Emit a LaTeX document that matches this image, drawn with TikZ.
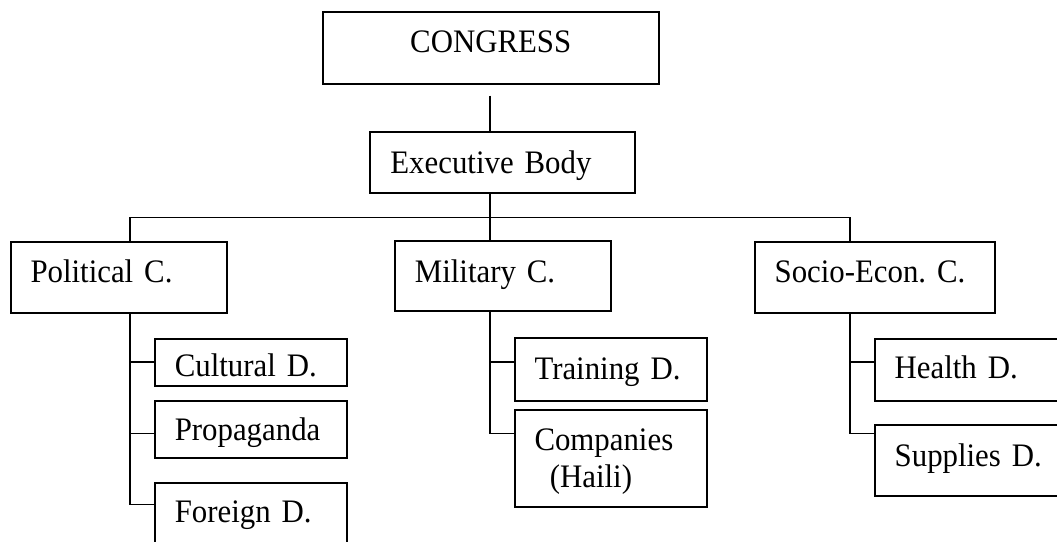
\documentclass[tikz,border=0pt]{standalone}
\usepackage{fontspec}
\setmainfont{Liberation Serif}[FakeStretch=0.94]
\frenchspacing
\begin{document}
\begin{tikzpicture}[x=0.75pt,y=-0.75pt,
    font=\fontsize{24.6}{28}\selectfont,
    unit/.style={draw,line width=1.5pt,anchor=north west,inner xsep=15pt,inner ysep=0pt,align=left},
    link/.style={line width=1.2pt}]
  \useasboundingbox (0,0) rectangle (1057,542);
  \clip (0,0) rectangle (1057,542);
  % boxes
  \node[unit,inner xsep=0pt,align=center,minimum width=252.4pt,text height=30.75pt,text depth=23.25pt] (congress) at (321.5,11) {CONGRESS};
  \node[unit,text width=168.2pt,text height=31pt,text depth=15.2pt] (exec) at (369.4,130.7) {Executive Body};
  \node[unit,text width=132.2pt,text height=30.5pt,text depth=23pt] (political) at (9.5,241) {Political C.};
  \node[unit,text width=132.2pt,text height=31.7pt,text depth=20.8pt] (military) at (393.9,239.7) {Military C.};
  \node[unit,text width=150.2pt,text height=30.5pt,text depth=22.7pt] (socio) at (753.6,241) {\mbox{Socio-Econ. C.}};
  \node[unit,text width=114.3pt,text height=28pt,text depth=7.7pt] (cultural) at (153.8,337.7) {Cultural D.};
  \node[unit,text width=114.3pt,text height=30.2pt,text depth=12.75pt] (propaganda) at (153.8,399.7) {Propaganda};
  \node[unit,text width=114.3pt,text height=30.2pt,text depth=45pt] (foreign) at (153.8,481.7) {Foreign D.};
  \node[unit,text width=114.4pt,text height=30.75pt,text depth=16.5pt] (training) at (513.5,337) {Training D.};
  \node[unit,text width=114.4pt,text height=30.2pt,text depth=42.3pt] (companies) at (513.5,409) {Companies\\\hspace*{11.5pt}(Haili)};
  \node[unit,text width=157.5pt,text height=30.2pt,text depth=16.3pt] (health) at (873.7,337.7) {Health D.};
  \node[unit,text width=157.5pt,text height=31pt,text depth=22.7pt] (supplies) at (873.7,423.7) {Supplies D.};
  % spines and rows
  \coordinate (top) at (489.75,95.7);
  \coordinate (pspine) at (130,217.3);
  \coordinate (mspine) at (489.75,217.3);
  \coordinate (sspine) at (849.9,217.3);
  \coordinate (rowA) at (0,361.7);
  \coordinate (rowB) at (0,433.3);
  \coordinate (rowC) at (0,504.3);
  \begin{scope}[link]
    \draw (top) -- (top |- exec.north);
    \draw (top |- exec.south) -- (mspine |- military.north);
    \draw (pspine) -- (sspine);
    \draw (pspine) -- (pspine |- political.north);
    \draw (sspine) -- (sspine |- socio.north);
    \draw (pspine |- political.south) -- (pspine |- rowC) -- (foreign.west |- rowC);
    \draw (pspine |- rowA) -- (cultural.west |- rowA);
    \draw (pspine |- rowB) -- (propaganda.west |- rowB);
    \draw (mspine |- military.south) -- (mspine |- rowB) -- (companies.west |- rowB);
    \draw (mspine |- rowA) -- (training.west |- rowA);
    \draw (sspine |- socio.south) -- (sspine |- rowB) -- (supplies.west |- rowB);
    \draw (sspine |- rowA) -- (health.west |- rowA);
  \end{scope}
\end{tikzpicture}
\end{document}
